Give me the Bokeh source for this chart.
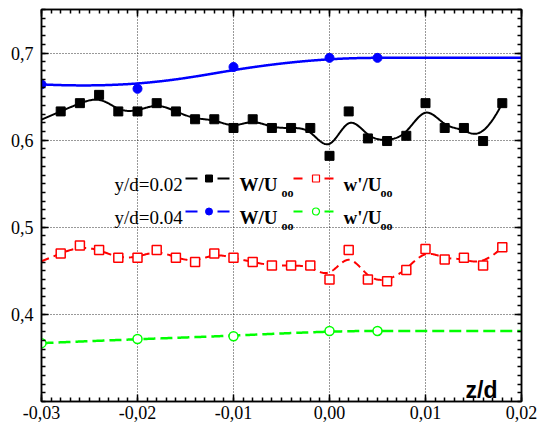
import numpy as np
from bokeh.plotting import figure
from bokeh.models import LinearAxis, FixedTicker, CustomJSTickFormatter, Label, Range1d, Grid
from bokeh.embed import file_html
from bokeh.resources import INLINE

# ---------------- data ----------------
z_fine = [-0.028, -0.026, -0.024, -0.022, -0.020, -0.018, -0.016, -0.014,
          -0.012, -0.010, -0.008, -0.006, -0.004, -0.002, 0.000, 0.002,
          0.004, 0.006, 0.008, 0.010, 0.012, 0.014, 0.016, 0.018]
W_mean_002 = [0.633, 0.6425, 0.652, 0.633, 0.633, 0.6425, 0.633, 0.624,
              0.624, 0.614, 0.624, 0.614, 0.614, 0.614, 0.582, 0.633,
              0.602, 0.599, 0.605, 0.6425, 0.614, 0.614, 0.599, 0.6425]
w_rms_002 = [0.470, 0.479, 0.474, 0.465, 0.465, 0.474, 0.465, 0.460,
             0.470, 0.465, 0.460, 0.456, 0.456, 0.456, 0.440, 0.474,
             0.440, 0.438, 0.451, 0.475, 0.463, 0.465, 0.456, 0.477]

z_coarse = [-0.03, -0.02, -0.01, 0.0, 0.005]
W_mean_004 = [0.664, 0.659, 0.684, 0.6945, 0.6945]
w_rms_004 = [0.367, 0.3717, 0.375, 0.381, 0.381]

x_tick_values = [-0.03, -0.02, -0.01, 0.0, 0.01, 0.02]
x_tick_labels = ["-0,03", "-0,02", "-0,01", "0,00", "0,01", "0,02"]
y_tick_values = [0.3, 0.4, 0.5, 0.6, 0.7]
y_tick_labels = ["0,3", "0,4", "0,5", "0,6", "0,7"]

legend_rows = ["y/d=0.02", "y/d=0.04"]
legend_mean = "W/U"
legend_rms = "w'/U"
legend_sub = "oo"
x_title = "z/d"

X0, X1 = -0.03, 0.02
Y0, Y1 = 0.3, 0.75

SERIF = "Liberation Serif"
SANS = "Liberation Sans"


# ---------------- clamped cubic B-spline with the data as control points ----------------
def bspline(px, py, samples=600):
    px = np.asarray(px, float)
    py = np.asarray(py, float)
    n = len(px)
    k = 3
    t = np.concatenate([np.zeros(k + 1), np.arange(1, n - k), np.full(k + 1, n - k)]).astype(float)
    u = np.linspace(0, n - k, samples)
    m = len(t) - 1
    N = np.zeros((m, samples))
    for i in range(m):
        N[i] = ((t[i] <= u) & (u < t[i + 1])).astype(float)
    N[n - 1, u >= t[-1]] = 1.0
    for d in range(1, k + 1):
        NN = np.zeros((m - d, samples))
        for i in range(m - d):
            a = t[i + d] - t[i]
            b = t[i + d + 1] - t[i + 1]
            if a > 0:
                NN[i] += (u - t[i]) / a * N[i]
            if b > 0:
                NN[i] += (t[i + d + 1] - u) / b * N[i + 1]
        N = NN
    return N.T @ px, N.T @ py


def curve(px, py, x_start=None, x_end=None):
    xs, ys = bspline(px, py)
    xs, ys = list(xs), list(ys)
    if x_start is not None and x_start < px[0]:
        s = (py[1] - py[0]) / (px[1] - px[0])
        xs.insert(0, x_start)
        ys.insert(0, py[0] + s * (x_start - px[0]))
    if x_end is not None and x_end > px[-1]:
        s = (py[-1] - py[-2]) / (px[-1] - px[-2])
        xs.append(x_end)
        ys.append(py[-1] + s * (x_end - px[-1]))
    return xs, ys


# ---------------- figure ----------------
FL, FR, FT, FB = 41.0, 521.0, 9.0, 401.0   # frame edges in canvas pixels
W, H = 538, 428

p = figure(width=W, height=H, output_backend="svg", toolbar_location=None,
           x_range=Range1d(X0, X1), y_range=Range1d(Y0, Y1),
           min_border_left=int(FL), min_border_right=int(W - FR), min_border_top=int(FT),
           min_border_bottom=int(H - FB),
           x_axis_location=None, y_axis_location=None)
p.background_fill_color = "white"
p.border_fill_color = "white"
p.outline_line_color = "black"
p.outline_line_width = 1.5
p.xgrid.visible = False
p.ygrid.visible = False

x_minor = [round(v, 4) for v in np.arange(X0, X1 + 1e-9, 0.001)]
y_minor = [round(v, 3) for v in np.arange(Y0, Y1 + 1e-9, 0.01)]
xt = FixedTicker(ticks=x_tick_values, minor_ticks=x_minor)
yt = FixedTicker(ticks=y_tick_values[1:], minor_ticks=y_minor)
blank = CustomJSTickFormatter(code="return ''")


def style_axis(ax, tin, mtin):
    ax.axis_line_color = "black"
    ax.axis_line_width = 1.5
    ax.major_tick_line_color = "black"
    ax.major_tick_line_width = 1.5
    ax.minor_tick_line_color = "black"
    ax.minor_tick_line_width = 1.5
    ax.major_tick_in = tin
    ax.major_tick_out = 0
    ax.minor_tick_in = mtin
    ax.minor_tick_out = 0
    ax.major_label_text_font = SERIF
    ax.major_label_text_font_size = "18px"
    ax.major_label_text_color = "black"


xb = LinearAxis(ticker=xt, major_label_overrides=dict(zip(x_tick_values, x_tick_labels)))
style_axis(xb, 7, 4)
xb.major_label_standoff = 4
p.add_layout(xb, "below")

yl = LinearAxis(ticker=yt, major_label_overrides=dict(zip(y_tick_values, y_tick_labels)))
style_axis(yl, 7, 4)
yl.major_label_standoff = 8
p.add_layout(yl, "left")

xa = LinearAxis(ticker=xt, formatter=blank)
style_axis(xa, 7, 4)
xa.major_label_standoff = 0
xa.major_label_text_font_size = "0px"
p.add_layout(xa, "above")

yr = LinearAxis(ticker=yt, formatter=blank)
style_axis(yr, 7, 4)
yr.major_label_standoff = 0
yr.major_label_text_font_size = "0px"
p.add_layout(yr, "right")

p.add_layout(Grid(dimension=0, ticker=xt, grid_line_color="black", grid_line_dash="1 2",
                  grid_line_width=1, grid_line_alpha=0.8))
p.add_layout(Grid(dimension=1, ticker=yt, grid_line_color="black", grid_line_dash="1 2",
                  grid_line_width=1, grid_line_alpha=0.8))

# bottom-most y label sits a little lower, like the reference
p.add_layout(Label(x=X0, y=y_tick_values[0], text=y_tick_labels[0], x_offset=-8, y_offset=-7,
                   text_align="right", text_baseline="middle", text_font=SERIF,
                   text_font_size="18px", text_color="black"))

# ---------------- series ----------------
BLACK, BLUE, RED, GREEN = "black", "#0000ff", "#ff0000", "#00ff00"

cx, cy = curve(z_fine, W_mean_002, x_start=X0)
p.line(cx, cy, line_color=BLACK, line_width=2)
p.scatter(z_fine, W_mean_002, marker="square", size=9, fill_color=BLACK, line_color=BLACK)

cx, cy = curve(z_fine, w_rms_002, x_start=X0)
p.line(cx, cy, line_color=RED, line_width=2, line_dash="8 5")
p.scatter(z_fine, w_rms_002, marker="square", size=9, fill_color="white", line_color=RED, line_width=1.5)

cx, cy = curve(z_coarse, W_mean_004, x_end=X1)
p.line(cx, cy, line_color=BLUE, line_width=2.5)
p.scatter(z_coarse, W_mean_004, marker="circle", size=9, fill_color=BLUE, line_color=BLUE)

cx, cy = curve(z_coarse, w_rms_004, x_end=X1)
p.line(cx, cy, line_color=GREEN, line_width=2.5, line_dash="12 5")
p.scatter(z_coarse, w_rms_004, marker="circle", size=9, fill_color="white", line_color=GREEN, line_width=1.5)


# ---------------- legend (positions in canvas pixels -> data) ----------------
def dx(px):
    return X0 + (px - FL) * (X1 - X0) / (FR - FL)


def dy(py):
    return Y0 + (FB - py) * (Y1 - Y0) / (FB - FT)


def add_text(txt, px, py, size, bold=False, font=SERIF):
    p.add_layout(Label(x=dx(px), y=dy(py), text=txt, text_align="left", text_baseline="alphabetic",
                       text_font=font, text_font_size=size, text_color="black",
                       text_font_style="bold" if bold else "normal"))


rows = [
    (legend_rows[0], 178, BLACK, "square", BLACK, RED, "square"),
    (legend_rows[1], 211, BLUE, "circle", BLUE, GREEN, "circle"),
]
for label, ly, c1, m1, f1, c2, m2 in rows:
    base = ly + 6
    add_text(label, 114, base, "19px")
    p.segment([dx(185), dx(217)], [dy(ly)] * 2, [dx(197), dx(229)], [dy(ly)] * 2, line_color=c1, line_width=2)
    p.scatter([dx(208.5)], [dy(ly)], marker=m1, size=7, fill_color=f1, line_color=c1)
    add_text(legend_mean, 239, base, "19px", bold=True)
    add_text(legend_sub, 281, base + 8, "12px", bold=True)
    p.segment([dx(293), dx(324)], [dy(ly)] * 2, [dx(302), dx(333)], [dy(ly)] * 2, line_color=c2, line_width=2)
    p.scatter([dx(315.5)], [dy(ly)], marker=m2, size=7, fill_color="white", line_color=c2, line_width=1.2)
    add_text(legend_rms, 343, base, "19px", bold=True)
    add_text(legend_sub, 380, base + 8, "12px", bold=True)

# axis title inside the plot
add_text(x_title, 465, 389, "23px", bold=True, font=SANS)

open("out.html", "w").write(file_html(p, INLINE))
